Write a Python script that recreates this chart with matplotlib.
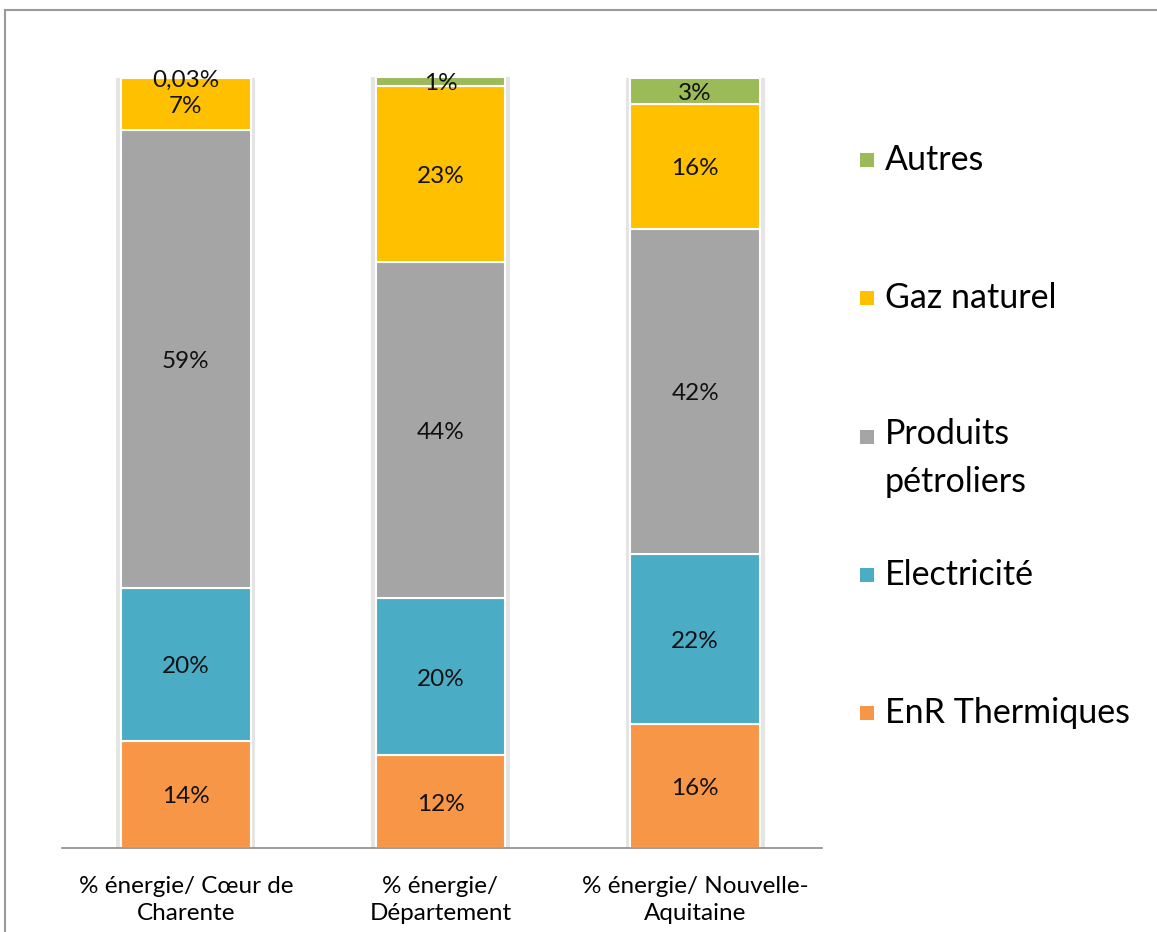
import numpy as np
import matplotlib.pyplot as plt
from matplotlib.patches import Rectangle

plt.rcParams['font.family'] = ['Lato', 'DejaVu Sans']

# data (percent of energy use)
categories = ['% énergie/ Cœur de\nCharente', '% énergie/\nDépartement', '% énergie/ Nouvelle-\nAquitaine']
series = ['EnR Thermiques', 'Electricité', 'Produits\npétroliers', 'Gaz naturel', 'Autres']
enr = [13.9, 12.0, 16.1]
elec = [19.8, 20.4, 22.0]
petrole = [59.4, 43.6, 42.2]
gaz = [6.8, 22.8, 16.2]
autres = [0.03, 1.2, 3.4]
colors = ['#F79646', '#4BACC6', '#A5A5A5', '#FFC000', '#9BBB59']

values = [enr, elec, petrole, gaz, autres]

def fmt(v):
    if v < 0.1:
        return f'{v:.2f}'.replace('.', ',') + '%'
    return f'{round(v)}%'

fig = plt.figure(figsize=(11.57, 9.32), dpi=100)
ax = fig.add_axes([62/1157, 84/932, 760/1157, 771/932])

x = np.arange(len(categories))
w = 0.51

# soft shadow behind the bars
totals = np.sum(values, axis=0)
ax.bar(x, totals, w + 0.035, color='#E4E4E4', zorder=1)

bottom = np.zeros(len(categories))
for vals, col in zip(values, colors):
    bars = ax.bar(x, vals, w, bottom=bottom, color=col, edgecolor='white', linewidth=1.5, zorder=2)
    for xi, b, v in zip(x, bottom, vals):
        ax.text(xi, b + v / 2 - 0.3, fmt(v), ha='center', va='center', fontsize=17.5, color='#111111', zorder=3)
    bottom += np.array(vals)

ax.set_xlim(-0.486, 2.498)
ax.set_ylim(0, 100)
ax.set_yticks([])
ax.set_xticks(x)
ax.set_xticklabels(categories, fontsize=17.5, linespacing=1.35)
ax.tick_params(axis='x', length=0, pad=20)
for s in ['top', 'right', 'left']:
    ax.spines[s].set_visible(False)
ax.spines['bottom'].set_color('#8C8C8C')
ax.spines['bottom'].set_linewidth(1.2)

# legend drawn by hand (top to bottom: Autres ... EnR)
leg_y = [160, 298, 437, 575, 713]
for i, (lab, col) in enumerate(zip(series[::-1], colors[::-1])):
    yc = 1 - leg_y[i] / 932
    fig.add_artist(Rectangle((860/1157, yc - 7/932), 14/1157, 14/932, transform=fig.transFigure,
                             facecolor=col, edgecolor='none'))
    if '\n' in lab:
        fig.text(885/1157, yc + 19/932, lab, fontsize=24.5, va='top', ha='left', linespacing=1.6)
    else:
        fig.text(885/1157, yc, lab, fontsize=24.5, va='center', ha='left')

# chart frame
fig.add_artist(Rectangle((5/1157, -0.1), 1.2, 1 - 10/932 + 0.1, transform=fig.transFigure,
                         facecolor='none', edgecolor='#9A9A9A', linewidth=1.5))

fig.savefig('out.png', dpi=100)
